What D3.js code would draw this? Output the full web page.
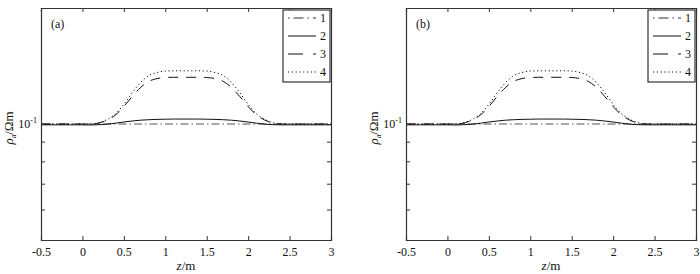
<!DOCTYPE html>
<html><head><meta charset="utf-8">
<script src="https://cdn.jsdelivr.net/npm/d3@7"></script>
<style>
body{margin:0;background:#fff;}
text{font-family:"Liberation Serif","Times New Roman",serif;fill:#111;}
</style></head>
<body><svg id="c" width="700" height="274"></svg>
<script>
// ---- data ----
const panelLabels = ["(a)", "(b)"];
const zValues = [-0.5, 0, 0.1, 0.2, 0.3, 0.4, 0.5, 0.6, 0.7, 0.8, 0.9, 1.0, 1.1, 1.2, 1.3, 1.4, 1.5, 1.6, 1.7, 1.8, 1.9, 2.0, 2.1, 2.2, 2.3, 2.4, 2.5, 3.0];
const series1 = [0.1,0.1,0.1,0.1,0.1,0.1,0.1,0.1,0.1,0.1,0.1,0.1,0.1,0.1,0.1,0.1,0.1,0.1,0.1,0.1,0.1,0.1,0.1,0.1,0.1,0.1,0.1,0.1];
const series2 = [0.0995,0.0995,0.0994,0.0996,0.0999,0.1005,0.1012,0.1018,0.1023,0.1026,0.1028,0.1029,0.103,0.103,0.103,0.103,0.1029,0.1028,0.1026,0.1023,0.1018,0.1012,0.1005,0.0999,0.0996,0.0995,0.0995,0.0995];
const series3 = [0.1,0.1,0.1,0.1006,0.1024,0.1056,0.111,0.1178,0.1243,0.129,0.1312,0.132,0.1322,0.1322,0.1322,0.1322,0.132,0.1312,0.129,0.1243,0.1178,0.111,0.1056,0.1024,0.1006,0.1,0.1,0.1];
const series4 = [0.1,0.1,0.1,0.1008,0.1028,0.1063,0.1125,0.1205,0.128,0.1335,0.136,0.1372,0.1374,0.1374,0.1374,0.1374,0.1372,0.136,0.1335,0.128,0.1205,0.1125,0.1063,0.1028,0.1008,0.1,0.1,0.1];
const seriesNames = ["1", "2", "3", "4"];
const xTicks = [-0.5, 0, 0.5, 1, 1.5, 2, 2.5, 3];
const xTickLabels = ["-0.5", "0", "0.5", "1", "1.5", "2", "2.5", "3"];
const yTicks = [0.05, 0.06, 0.07, 0.08, 0.09, 0.1, 0.2];
const yDomain = [0.05, 0.2];
const xDomain = [-0.5, 3];

const styles = [
  {dash:"8,3,1.5,3", color:"#555", width:1.1},
  {dash:null, color:"#111", width:1},
  {dash:"10,8", color:"#111", width:1},
  {dash:"1.2,2.6", color:"#111", width:1}
];
const allSeries = [series1, series2, series3, series4];

const svg = d3.select("#c");
const W = 290, plotTop = 8, plotBottom = 240;
const offsets = [41, 406];

panelLabels.forEach((lab, pi) => {
  const left = offsets[pi];
  const g = svg.append("g");
  const x = d3.scaleLinear().domain(xDomain).range([left, left + W]);
  const y = d3.scaleLog().domain(yDomain).range([plotBottom, plotTop]);

  const line = d3.line().x((d,i)=>x(zValues[i])).y(d=>y(d)).curve(d3.curveMonotoneX);
  allSeries.forEach((s, si) => {
    const p = g.append("path").datum(s).attr("d", line)
      .attr("fill","none").attr("stroke", styles[si].color).attr("stroke-width", styles[si].width);
    if (styles[si].dash) p.attr("stroke-dasharray", styles[si].dash);
  });

  const axB = g.append("g").attr("transform",`translate(0,${plotBottom})`)
    .call(d3.axisBottom(x).tickValues(xTicks).tickSize(-4).tickPadding(7)
      .tickFormat((d,i) => xTickLabels[i]));
  const axT = g.append("g").attr("transform",`translate(0,${plotTop})`)
    .call(d3.axisTop(x).tickValues(xTicks).tickSize(-4).tickFormat(""));
  const axL = g.append("g").attr("transform",`translate(${left},0)`)
    .call(d3.axisLeft(y).tickValues(yTicks).tickSize(-4).tickFormat(""));
  const axR = g.append("g").attr("transform",`translate(${left+W},0)`)
    .call(d3.axisRight(y).tickValues(yTicks).tickSize(-4).tickFormat(""));
  [axB, axT, axL, axR].forEach(a => {
    a.select(".domain").attr("stroke","#333").attr("stroke-width",1.2);
    a.selectAll(".tick line").attr("stroke","#333");
    a.selectAll("text").attr("font-size",12).attr("fill","#111");
  });

  // y tick label 10^-1
  const t = g.append("text").attr("x", left - 4).attr("y", y(0.1) + 4)
    .attr("text-anchor","end").attr("font-size",12);
  t.append("tspan").text("10");
  t.append("tspan").attr("dy",-5).attr("font-size",8).text("-1");

  // x label
  const xl = g.append("text").attr("x", left + W/2).attr("y", 270).attr("text-anchor","middle").attr("font-size",13);
  xl.append("tspan").attr("font-style","italic").text("z");
  xl.append("tspan").text("/m");

  // y label
  const yl = g.append("text").attr("transform",`translate(${left-28},${y(0.1)+4}) rotate(-90)`)
    .attr("text-anchor","middle").attr("font-size",13);
  yl.append("tspan").attr("font-style","italic").text("ρ");
  yl.append("tspan").attr("font-size",8).attr("dy",3).text("a");
  yl.append("tspan").attr("dy",-3).text("/Ωm");

  // panel label
  g.append("text").attr("x", left + 10).attr("y", 28).attr("font-size",12).text(lab);

  // legend
  const lx = left + W - 48, ly = 10;
  const lg = g.append("g");
  lg.append("rect").attr("x", lx).attr("y", ly).attr("width", 47).attr("height", 72)
    .attr("fill","#fff").attr("stroke","#333").attr("stroke-width",1.2);
  seriesNames.forEach((n, si) => {
    const yy = ly + 8 + si * 18;
    const l = lg.append("line").attr("x1", lx + 5).attr("x2", lx + 33).attr("y1", yy).attr("y2", yy)
      .attr("stroke", si === 0 ? "#333" : styles[si].color).attr("stroke-width", styles[si].width);
    if (si === 0) l.attr("stroke-dasharray","1.5,4,10,4");
    else if (si === 2) l.attr("stroke-dasharray","15,10");
    else if (styles[si].dash) l.attr("stroke-dasharray", styles[si].dash);
    lg.append("text").attr("x", lx + 37).attr("y", yy + 4).attr("font-size",12).text(n);
  });
});
</script></body></html>
